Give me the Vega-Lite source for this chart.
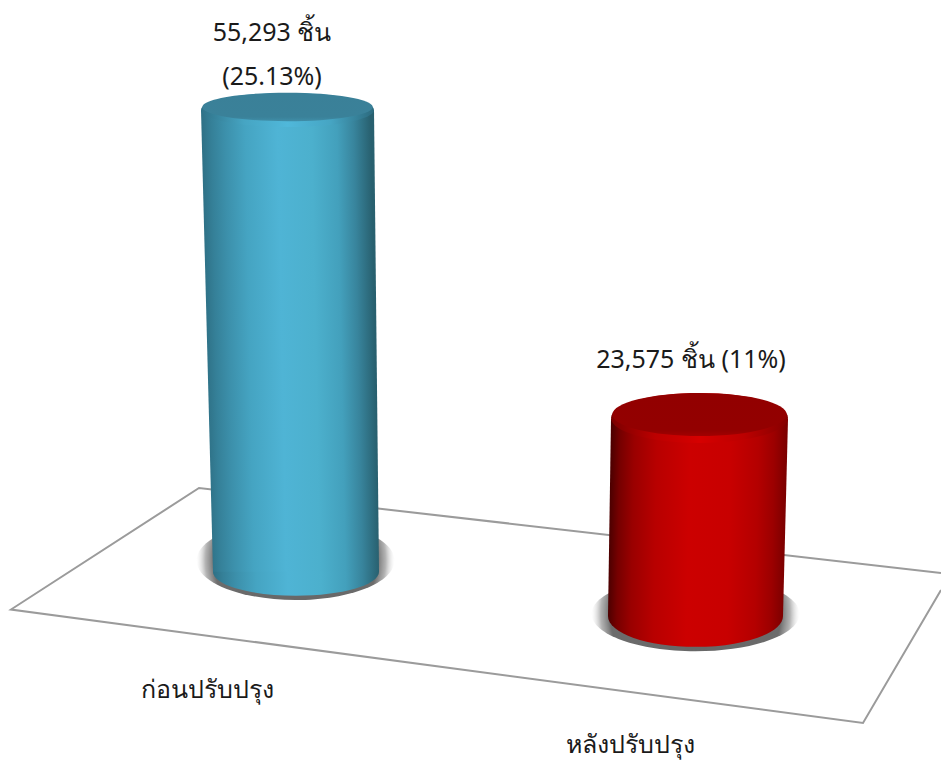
{
  "$schema": "https://vega.github.io/schema/vega-lite/v6.json",
  "width": 941,
  "height": 760,
  "padding": 0,
  "autosize": {"type": "none"},
  "background": "#ffffff",
  "view": {"stroke": null},
  "datasets": {
    "floor": [
      {"step": 1, "across": 941, "level": 20355},
      {"step": 2, "across": 863, "level": 4430},
      {"step": 3, "across": 11, "level": 18020},
      {"step": 4, "across": 199, "level": 32569},
      {"step": 5, "across": 941, "level": 22391}
    ],
    "discs": [
      {"name": "before", "part": "shadow", "across": 295.5, "level": 23900},
      {"name": "before", "part": "base", "across": 296, "level": 22537},
      {"name": "before", "part": "top", "across": 287.5, "level": 77830},
      {"name": "after", "part": "shadow", "across": 695.5, "level": 17500},
      {"name": "after", "part": "base", "across": 695.5, "level": 17255},
      {"name": "after", "part": "top", "across": 699.5, "level": 40950}
    ],
    "bodies": [
      {"name": "before", "pieces": 55293, "level": 77830, "left": 201, "right": 374},
      {"name": "before", "pieces": 55293, "level": 22537, "left": 213, "right": 379},
      {"name": "after", "pieces": 23575, "level": 40830, "left": 611, "right": 788},
      {"name": "after", "pieces": 23575, "level": 17255, "left": 608, "right": 783}
    ],
    "labels": [
      {"label": "55,293 ชิ้น", "across": 272, "level": 87050},
      {"label": "(25.13%)", "across": 272, "level": 81780},
      {"label": "23,575 ชิ้น (11%)", "across": 691, "level": 47895},
      {"label": "ก่อนปรับปรุง", "across": 207, "level": 8380},
      {"label": "หลังปรับปรุง", "across": 630, "level": 1800}
    ]
  },
  "encoding": {
    "x": {"field": "across", "type": "quantitative", "scale": {"domain": [0, 941], "nice": false, "zero": false}, "axis": null},
    "y": {"field": "level", "type": "quantitative", "scale": {"domain": [0, 91000], "nice": false, "zero": false}, "axis": null}
  },
  "layer": [
    {
      "data": {"name": "floor"},
      "mark": {"type": "line", "stroke": "#9b9b9b", "strokeWidth": 2, "strokeJoin": "miter"},
      "encoding": {"order": {"field": "step", "type": "ordinal"}}
    },
    {
      "data": {"name": "discs"},
      "transform": [{"filter": "datum.part === 'shadow' && datum.name === 'before'"}],
      "mark": {
        "type": "point", "filled": true, "opacity": 1, "size": 39204,
        "shape": "M-1,0A1,0.4,0,1,1,1,0A1,0.4,0,1,1,-1,0Z",
        "fill": {"gradient": "radial", "x1": 0.5, "y1": 0.5, "x2": 0.5, "y2": 0.5, "r1": 0, "r2": 0.5,
          "stops": [
            {"offset": 0, "color": "rgba(100,100,100,1)"},
            {"offset": 0.82, "color": "rgba(108,108,108,1)"},
            {"offset": 0.91, "color": "rgba(160,160,160,0.8)"},
            {"offset": 1, "color": "rgba(225,225,225,0)"}
          ]}
      }
    },
    {
      "data": {"name": "discs"},
      "transform": [{"filter": "datum.part === 'shadow' && datum.name === 'after'"}],
      "mark": {
        "type": "point", "filled": true, "opacity": 1, "size": 43264,
        "shape": "M-1,0A1,0.36,0,1,1,1,0A1,0.36,0,1,1,-1,0Z",
        "fill": {"gradient": "radial", "x1": 0.5, "y1": 0.5, "x2": 0.5, "y2": 0.5, "r1": 0, "r2": 0.5,
          "stops": [
            {"offset": 0, "color": "rgba(100,100,100,1)"},
            {"offset": 0.82, "color": "rgba(108,108,108,1)"},
            {"offset": 0.91, "color": "rgba(160,160,160,0.8)"},
            {"offset": 1, "color": "rgba(225,225,225,0)"}
          ]}
      }
    },
    {
      "data": {"name": "discs"},
      "transform": [{"filter": "datum.part === 'base' && datum.name === 'before'"}],
      "mark": {
        "type": "point", "filled": true, "opacity": 1, "size": 27556,
        "shape": "M-1,0A1,0.289,0,1,1,1,0A1,0.289,0,1,1,-1,0Z",
        "fill": {"gradient": "linear", "x1": 0, "y1": 0, "x2": 1, "y2": 0,
          "stops": [
            {"offset": 0, "color": "#2e7085"},
            {"offset": 0.06, "color": "#358098"},
            {"offset": 0.14, "color": "#3c90ab"},
            {"offset": 0.26, "color": "#45a4c2"},
            {"offset": 0.45, "color": "#4fb4d5"},
            {"offset": 0.65, "color": "#4cb0cd"},
            {"offset": 0.8, "color": "#43a0bc"},
            {"offset": 0.9, "color": "#38849c"},
            {"offset": 1, "color": "#28606f"}
          ]}
      }
    },
    {
      "data": {"name": "discs"},
      "transform": [{"filter": "datum.part === 'base' && datum.name === 'after'"}],
      "mark": {
        "type": "point", "filled": true, "opacity": 1, "size": 30625,
        "shape": "M-1,0A1,0.354,0,1,1,1,0A1,0.354,0,1,1,-1,0Z",
        "fill": {"gradient": "linear", "x1": 0, "y1": 0, "x2": 1, "y2": 0,
          "stops": [
            {"offset": 0, "color": "#4d0000"},
            {"offset": 0.05, "color": "#760000"},
            {"offset": 0.13, "color": "#9a0000"},
            {"offset": 0.26, "color": "#b80000"},
            {"offset": 0.45, "color": "#cc0000"},
            {"offset": 0.68, "color": "#c80000"},
            {"offset": 0.84, "color": "#b40000"},
            {"offset": 0.93, "color": "#9c0000"},
            {"offset": 1, "color": "#7d0000"}
          ]}
      }
    },
    {
      "data": {"name": "bodies"},
      "transform": [{"filter": "datum.name === 'before'"}],
      "mark": {
        "type": "area", "orient": "horizontal",
        "fill": {"gradient": "linear", "x1": 0, "y1": 0, "x2": 0.95, "y2": -0.0475,
          "stops": [
            {"offset": 0, "color": "#2e7085"},
            {"offset": 0.06, "color": "#358098"},
            {"offset": 0.14, "color": "#3c90ab"},
            {"offset": 0.26, "color": "#45a4c2"},
            {"offset": 0.45, "color": "#4fb4d5"},
            {"offset": 0.65, "color": "#4cb0cd"},
            {"offset": 0.8, "color": "#43a0bc"},
            {"offset": 0.9, "color": "#38849c"},
            {"offset": 1, "color": "#28606f"}
          ]}
      },
      "encoding": {
        "x": {"field": "left", "type": "quantitative", "scale": {"domain": [0, 941], "nice": false, "zero": false}, "axis": null},
        "x2": {"field": "right"}
      }
    },
    {
      "data": {"name": "bodies"},
      "transform": [{"filter": "datum.name === 'after'"}],
      "mark": {
        "type": "area", "orient": "horizontal",
        "fill": {"gradient": "linear", "x1": 0, "y1": 1, "x2": 0.972, "y2": 1.021,
          "stops": [
            {"offset": 0, "color": "#4d0000"},
            {"offset": 0.05, "color": "#760000"},
            {"offset": 0.13, "color": "#9a0000"},
            {"offset": 0.26, "color": "#b80000"},
            {"offset": 0.45, "color": "#cc0000"},
            {"offset": 0.68, "color": "#c80000"},
            {"offset": 0.84, "color": "#b40000"},
            {"offset": 0.93, "color": "#9c0000"},
            {"offset": 1, "color": "#7d0000"}
          ]}
      },
      "encoding": {
        "x": {"field": "left", "type": "quantitative", "scale": {"domain": [0, 941], "nice": false, "zero": false}, "axis": null},
        "x2": {"field": "right"}
      }
    },
    {
      "data": {"name": "discs"},
      "transform": [{"filter": "datum.part === 'top' && datum.name === 'before'"}],
      "mark": {
        "type": "point", "filled": true, "opacity": 1, "size": 29929,
        "shape": "M-1,0A1,0.197,0,1,1,1,0A1,0.197,0,1,1,-1,0Z",
        "fill": {"gradient": "linear", "x1": 0, "y1": 0, "x2": 1, "y2": 0,
          "stops": [
            {"offset": 0, "color": "#2f7288"},
            {"offset": 0.25, "color": "#46a5c3"},
            {"offset": 0.5, "color": "#50b8da"},
            {"offset": 0.75, "color": "#46a5c3"},
            {"offset": 1, "color": "#2c6a7e"}
          ]}
      }
    },
    {
      "data": {"name": "discs"},
      "transform": [{"filter": "datum.part === 'top' && datum.name === 'before'"}],
      "mark": {
        "type": "point", "filled": true, "opacity": 1, "size": 29929,
        "shape": "M-0.985,-0.035A0.985,0.165,0,1,1,0.985,-0.035A0.985,0.165,0,1,1,-0.985,-0.035Z",
        "fill": {"gradient": "linear", "x1": 0, "y1": 0, "x2": 0, "y2": 1,
          "stops": [
            {"offset": 0, "color": "#3a8098"},
            {"offset": 0.85, "color": "#3a8199"},
            {"offset": 1, "color": "#3f8ea8"}
          ]}
      }
    },
    {
      "data": {"name": "discs"},
      "transform": [{"filter": "datum.part === 'top' && datum.name === 'after'"}],
      "mark": {
        "type": "point", "filled": true, "opacity": 1, "size": 31329,
        "shape": "M-1,0A1,0.282,0,1,1,1,0A1,0.282,0,1,1,-1,0Z",
        "fill": {"gradient": "linear", "x1": 0, "y1": 0, "x2": 1, "y2": 0,
          "stops": [
            {"offset": 0, "color": "#7a0000"},
            {"offset": 0.25, "color": "#bc0000"},
            {"offset": 0.5, "color": "#d60000"},
            {"offset": 0.75, "color": "#bc0000"},
            {"offset": 1, "color": "#850000"}
          ]}
      }
    },
    {
      "data": {"name": "discs"},
      "transform": [{"filter": "datum.part === 'top' && datum.name === 'after'"}],
      "mark": {
        "type": "point", "filled": true, "opacity": 1, "size": 31329,
        "shape": "M-0.985,-0.04A0.985,0.243,0,1,1,0.985,-0.04A0.985,0.243,0,1,1,-0.985,-0.04Z",
        "fill": {"gradient": "linear", "x1": 0, "y1": 0, "x2": 0, "y2": 1,
          "stops": [
            {"offset": 0, "color": "#920000"},
            {"offset": 0.88, "color": "#930000"},
            {"offset": 1, "color": "#a20000"}
          ]}
      }
    },
    {
      "data": {"name": "labels"},
      "mark": {"type": "text", "font": "Noto Sans", "fontSize": 25, "color": "#1a1a1a", "align": "center", "baseline": "middle"},
      "encoding": {"text": {"field": "label", "type": "nominal"}}
    }
  ]
}
